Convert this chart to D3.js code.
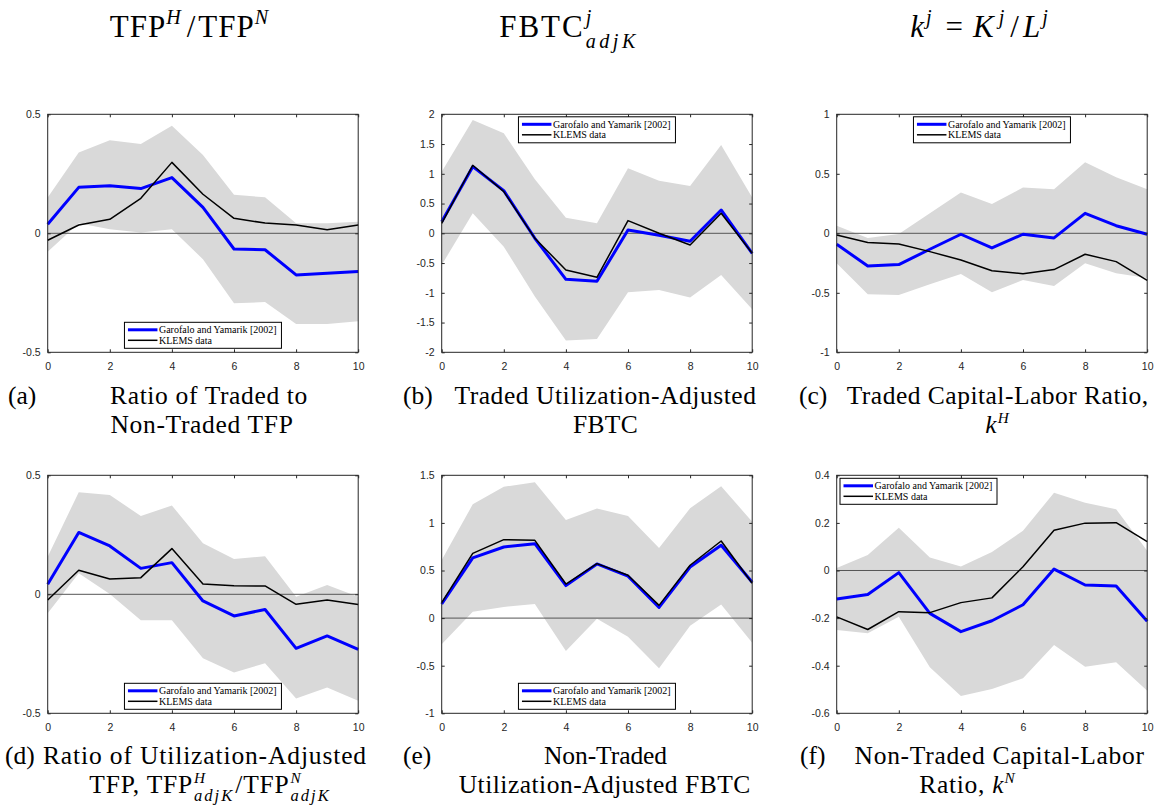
<!DOCTYPE html>
<html>
<head>
<meta charset="utf-8">
<script src="https://cdn.jsdelivr.net/npm/d3@7"></script>
<style>
  body { margin: 0; background: #fff; }
  svg { display: block; }
</style>
</head>
<body>
<div id="chart"></div>
<script>
var svgWidth = 1160;
var svgHeight = 805;

// horizon steps and ticks
var steps = [0, 1, 2, 3, 4, 5, 6, 7, 8, 9, 10];
var xTicks = [0, 2, 4, 6, 8, 10];
var seriesNames = ["Garofalo and Yamarik [2002]", "KLEMS data"];

// (a) ratio of traded to non-traded TFP
var aGY = [0.038, 0.193, 0.200, 0.188, 0.234, 0.109, -0.066, -0.069, -0.175, -0.168, -0.161];
var aKL = [-0.029, 0.035, 0.059, 0.147, 0.298, 0.164, 0.063, 0.043, 0.035, 0.015, 0.035];
var aHi = [0.150, 0.339, 0.391, 0.375, 0.452, 0.329, 0.162, 0.151, 0.042, 0.042, 0.049];
var aLo = [-0.077, 0.042, 0.017, 0.003, 0.017, -0.109, -0.294, -0.289, -0.381, -0.381, -0.370];
var aTicks = [-0.5, 0, 0.5];

// (b) traded utilization-adjusted FBTC
var bGY = [0.196, 1.12, 0.717, -0.084, -0.773, -0.807, 0.056, -0.034, -0.134, 0.392, -0.336];
var bKL = [0.168, 1.143, 0.70, -0.084, -0.616, -0.74, 0.213, 0, -0.196, 0.336, -0.336];
var bHi = [1.036, 1.905, 1.68, 0.908, 0.263, 0.168, 1.092, 0.885, 0.795, 1.485, 0.6];
var bLo = [-0.532, 0.336, -0.224, -1.064, -1.80, -1.776, -0.99, -0.952, -1.08, -0.70, -1.277];
var bTicks = [-2, -1.5, -1, -0.5, 0, 0.5, 1, 1.5, 2];

// (c) traded capital-labor ratio
var cGY = [-0.092, -0.275, -0.263, -0.134, -0.008, -0.123, -0.008, -0.039, 0.168, 0.064, -0.008];
var cKL = [-0.014, -0.078, -0.09, -0.154, -0.224, -0.314, -0.339, -0.305, -0.176, -0.238, -0.395];
var cHi = [0.064, -0.039, -0.006, 0.168, 0.342, 0.246, 0.384, 0.37, 0.597, 0.47, 0.37];
var cLo = [-0.252, -0.513, -0.518, -0.429, -0.342, -0.496, -0.392, -0.443, -0.252, -0.336, -0.375];
var cTicks = [-1, -0.5, 0, 0.5, 1];

// (d) ratio of utilization-adjusted TFP
var dGY = [0.042, 0.26, 0.203, 0.109, 0.133, -0.028, -0.091, -0.064, -0.227, -0.175, -0.231];
var dKL = [-0.024, 0.101, 0.064, 0.07, 0.192, 0.043, 0.036, 0.035, -0.042, -0.024, -0.043];
var dHi = [0.158, 0.429, 0.417, 0.329, 0.373, 0.214, 0.148, 0.16, -0.01, 0.039, -0.01];
var dLo = [-0.08, 0.088, 0.001, -0.109, -0.109, -0.269, -0.329, -0.29, -0.438, -0.392, -0.447];
var dTicks = [-0.5, 0, 0.5];

// (e) non-traded utilization-adjusted FBTC
var eGY = [0.148, 0.632, 0.747, 0.782, 0.341, 0.569, 0.44, 0.113, 0.537, 0.765, 0.376];
var eKL = [0.162, 0.68, 0.824, 0.817, 0.358, 0.572, 0.45, 0.134, 0.555, 0.81, 0.366];
var eHi = [0.61, 1.195, 1.38, 1.426, 1.03, 1.15, 1.072, 0.737, 1.153, 1.384, 1.013];
var eLo = [-0.275, 0.068, 0.117, 0.148, -0.345, -0.006, -0.195, -0.527, -0.08, 0.144, -0.258];
var eTicks = [-1, -0.5, 0, 0.5, 1, 1.5];

// (f) non-traded capital-labor ratio
var fGY = [-0.12, -0.101, -0.009, -0.18, -0.257, -0.211, -0.144, 0.006, -0.061, -0.065, -0.213];
var fKL = [-0.195, -0.248, -0.173, -0.177, -0.135, -0.115, 0.016, 0.169, 0.199, 0.201, 0.121];
var fHi = [0.011, 0.065, 0.18, 0.055, 0.017, 0.078, 0.167, 0.327, 0.285, 0.257, 0.083];
var fLo = [-0.25, -0.264, -0.194, -0.407, -0.527, -0.498, -0.453, -0.313, -0.404, -0.386, -0.505];
var fTicks = [-0.6, -0.4, -0.2, 0, 0.2, 0.4];

var serif = "'Liberation Serif', 'Times New Roman', serif";
var sans = "'Liberation Sans', Arial, sans-serif";

var colLeft = [47.7, 441.7, 836.7];
var rowTop = [114.3, 475.3];
var width = 310.5;
var height = 238;

var panels = [
    {col: 0, row: 0, gy: aGY, kl: aKL, hi: aHi, lo: aLo, ticks: aTicks, legend: "bottom"},
    {col: 1, row: 0, gy: bGY, kl: bKL, hi: bHi, lo: bLo, ticks: bTicks, legend: "top"},
    {col: 2, row: 0, gy: cGY, kl: cKL, hi: cHi, lo: cLo, ticks: cTicks, legend: "top"},
    {col: 0, row: 1, gy: dGY, kl: dKL, hi: dHi, lo: dLo, ticks: dTicks, legend: "bottom"},
    {col: 1, row: 1, gy: eGY, kl: eKL, hi: eHi, lo: eLo, ticks: eTicks, legend: "bottom"},
    {col: 2, row: 1, gy: fGY, kl: fKL, hi: fHi, lo: fLo, ticks: fTicks, legend: "topleft"}
];

var svg = d3.select("#chart")
    .append("svg")
    .attr("width", svgWidth)
    .attr("height", svgHeight);

var axisColor = "#262626";

function fmt(d) {
    return String(+d.toFixed(2));
}

panels.forEach(function(p) {
    var chartGroup = svg.append("g")
        .attr("transform", `translate(${colLeft[p.col]},${rowTop[p.row]})`);

    var xScale = d3.scaleLinear().domain([0, 10]).range([0, width]);
    var yScale = d3.scaleLinear()
        .domain([d3.min(p.ticks), d3.max(p.ticks)])
        .range([height, 0]);

    var rows = steps.map(function(s, i) {
        return {x: s, gy: p.gy[i], kl: p.kl[i], hi: p.hi[i], lo: p.lo[i]};
    });

    // confidence band
    var band = d3.area()
        .x(d => xScale(d.x))
        .y0(d => yScale(d.lo))
        .y1(d => yScale(d.hi));
    chartGroup.append("path")
        .datum(rows)
        .attr("d", band)
        .attr("fill", "#d9d9d9");

    // zero line
    chartGroup.append("line")
        .attr("x1", 0).attr("x2", width)
        .attr("y1", yScale(0)).attr("y2", yScale(0))
        .attr("stroke", "#555")
        .attr("stroke-width", 1);

    var blueLine = d3.line().x(d => xScale(d.x)).y(d => yScale(d.gy));
    var blackLine = d3.line().x(d => xScale(d.x)).y(d => yScale(d.kl));

    chartGroup.append("path")
        .datum(rows)
        .attr("d", blueLine)
        .attr("fill", "none")
        .attr("stroke", "#0000ff")
        .attr("stroke-width", 3)
        .attr("stroke-linejoin", "round");
    chartGroup.append("path")
        .datum(rows)
        .attr("d", blackLine)
        .attr("fill", "none")
        .attr("stroke", "#000")
        .attr("stroke-width", 1.5)
        .attr("stroke-linejoin", "round");

    // axes, ticks inside on all four sides
    var bottomAxis = d3.axisBottom(xScale).tickValues(xTicks).tickSize(-3).tickSizeOuter(0).tickPadding(10).tickFormat(fmt);
    var topAxis = d3.axisTop(xScale).tickValues(xTicks).tickSize(-3).tickSizeOuter(0).tickFormat("");
    var leftAxis = d3.axisLeft(yScale).tickValues(p.ticks).tickSize(-3).tickSizeOuter(0).tickPadding(7).tickFormat(fmt);
    var rightAxis = d3.axisRight(yScale).tickValues(p.ticks).tickSize(-3).tickSizeOuter(0).tickFormat("");

    chartGroup.append("g")
        .attr("transform", `translate(0,${height})`)
        .call(bottomAxis);
    chartGroup.append("g").call(leftAxis);
    chartGroup.append("g").call(topAxis);
    chartGroup.append("g").attr("transform", `translate(${width},0)`).call(rightAxis);

    chartGroup.selectAll(".domain").remove();
    chartGroup.selectAll(".tick line").attr("stroke", axisColor);
    chartGroup.selectAll(".tick text")
        .attr("fill", axisColor)
        .style("font-family", sans)
        .style("font-size", "10.5px");

    chartGroup.append("rect")
        .attr("width", width)
        .attr("height", height)
        .attr("fill", "none")
        .attr("stroke", axisColor)
        .attr("stroke-width", 1);

    // legend
    var lw = 157, lh = 26;
    var lx, ly;
    if (p.legend === "bottom") { lx = (width - lw) / 2; ly = height - lh - 4; }
    else if (p.legend === "top") { lx = (width - lw) / 2; ly = 2.5; }
    else { lx = 3.3; ly = 3; }
    var legend = chartGroup.append("g").attr("transform", `translate(${lx},${ly})`);
    legend.append("rect")
        .attr("width", lw).attr("height", lh)
        .attr("fill", "#fff")
        .attr("stroke", "#000")
        .attr("stroke-width", 1);
    var legendColors = ["#0000ff", "#000"];
    var legendWidths = [3, 1.5];
    seriesNames.forEach(function(name, i) {
        var yy = 7.5 + i * 10.5;
        legend.append("line")
            .attr("x1", 3.5).attr("x2", 33)
            .attr("y1", yy).attr("y2", yy)
            .attr("stroke", legendColors[i])
            .attr("stroke-width", legendWidths[i]);
        legend.append("text")
            .attr("x", 34.5).attr("y", yy + 3.4)
            .style("font-family", serif)
            .style("font-size", "10px")
            .text(name);
    });
});

// rich text: runs with superscripts and stacked subscripts
// part: t text, it italic, s "sup"/"sub", stack (sub under previous sup),
// ls letter-spacing, pre / pad extra room before / after
var titleCfg = {supR: 0.65, subR: 0.65, supUp: 0.42, subDown: 0.36};
var capCfg = {supR: 0.6, subR: 0.65, supUp: 0.4, subDown: 0.32};

function richText(parts, x, y, size, mode, cfg, target) {
    function layout(extra) {
        var grp = svg.append("g");
        var cx = 0, lastStart = 0, n = 0;
        parts.forEach(function(p) {
            var fs = p.s === "sup" ? size * cfg.supR : (p.s === "sub" ? size * cfg.subR : size);
            var dy = p.s === "sup" ? -size * cfg.supUp : (p.s === "sub" ? size * cfg.subDown : 0);
            var ls = p.ls != null ? p.ls : extra;
            var start = p.stack ? lastStart + (p.pre || 0) : cx + (p.pre || 0);
            var t = grp.append("text")
                .attr("x", start)
                .attr("y", dy)
                .style("font-family", serif)
                .style("font-size", fs + "px")
                .style("font-style", p.it ? "italic" : "normal")
                .attr("xml:space", "preserve")
                .text(p.t);
            var w = t.node().getComputedTextLength() + ls * p.t.length;
            t.style("letter-spacing", ls + "px");
            var end = start + w + (p.pad || 0);
            if (p.stack) {
                cx = Math.max(cx, end);
            } else {
                lastStart = start;
                cx = end;
                if (p.ls == null) n += p.t.length;
            }
        });
        return {grp: grp, w: cx, n: n};
    }
    var res = layout(0);
    if (target && res.n) {
        var extra = (target - res.w) / res.n;
        res.grp.remove();
        res = layout(extra);
    }
    var off = mode === "middle" ? -res.w / 2 : 0;
    res.grp.attr("transform", `translate(${x + off},${y})`);
}

// column titles
var titleSize = 31;
var titleY = 36.7;
richText([{t: "TFP", ls: 1}, {t: "H", it: 1, s: "sup", pad: 4}, {t: "/", pre: 2, pad: 3},
    {t: "TFP", ls: 1}, {t: "N", it: 1, s: "sup"}], 189, titleY, titleSize, "middle", titleCfg);
richText([{t: "FBTC", ls: 2}, {t: "j", it: 1, s: "sup", pre: 1}, {t: "adjK", it: 1, s: "sub", stack: 1, ls: 3.5}],
    569, titleY, titleSize, "middle", titleCfg);
richText([{t: "k", it: 1, ls: 2}, {t: "j", it: 1, s: "sup", pad: 4}, {t: "=", pre: 10, pad: 10},
    {t: "K", it: 1, ls: 3, pad: 2}, {t: "j", it: 1, s: "sup", pad: 3}, {t: "/", pre: 3, pad: 4},
    {t: "L", it: 1, ls: 2}, {t: "j", it: 1, s: "sup"}], 979, titleY, titleSize, "middle", titleCfg);

// sub-figure captions
var capSize = 25.5;
var capLines1 = [404, 763.5];
var capLines2 = [433, 793];

richText([{t: "(a)"}], 8, capLines1[0], capSize, "start", capCfg);
richText([{t: "Ratio of Traded to"}], 209, capLines1[0], capSize, "middle", capCfg, 198);
richText([{t: "Non-Traded TFP"}], 202, capLines2[0], capSize, "middle", capCfg, 183);

richText([{t: "(b)"}], 403, capLines1[0], capSize, "start", capCfg);
richText([{t: "Traded Utilization-Adjusted"}], 605.5, capLines1[0], capSize, "middle", capCfg, 302);
richText([{t: "FBTC"}], 605.5, capLines2[0], capSize, "middle", capCfg, 65);

richText([{t: "(c)"}], 799, capLines1[0], capSize, "start", capCfg);
richText([{t: "Traded Capital-Labor Ratio,"}], 997.7, capLines1[0], capSize, "middle", capCfg, 302);
richText([{t: "k", it: 1, ls: 1}, {t: "H", it: 1, s: "sup"}], 997, capLines2[0], capSize, "middle", capCfg);

richText([{t: "(d)"}], 5, capLines1[1], capSize, "start", capCfg);
richText([{t: "Ratio of Utilization-Adjusted"}], 205, capLines1[1], capSize, "middle", capCfg, 324);
richText([{t: "TFP, TFP", ls: 0.8}, {t: "H", it: 1, s: "sup", pre: 1}, {t: "adjK", it: 1, s: "sub", stack: 1, ls: 2},
    {t: "/TFP", ls: 0.8, pre: 1}, {t: "N", it: 1, s: "sup", pre: 1}, {t: "adjK", it: 1, s: "sub", stack: 1, ls: 2}],
    210, capLines2[1], capSize, "middle", capCfg);

richText([{t: "(e)"}], 403, capLines1[1], capSize, "start", capCfg);
richText([{t: "Non-Traded"}], 605.5, capLines1[1], capSize, "middle", capCfg, 123);
richText([{t: "Utilization-Adjusted FBTC"}], 604.7, capLines2[1], capSize, "middle", capCfg, 292);

richText([{t: "(f)"}], 800, capLines1[1], capSize, "start", capCfg);
richText([{t: "Non-Traded Capital-Labor"}], 999.6, capLines1[1], capSize, "middle", capCfg, 290);
richText([{t: "Ratio, ", ls: 0.7}, {t: "k", it: 1, ls: 1}, {t: "N", it: 1, s: "sup"}], 967, capLines2[1], capSize, "middle", capCfg);
</script>
</body>
</html>
